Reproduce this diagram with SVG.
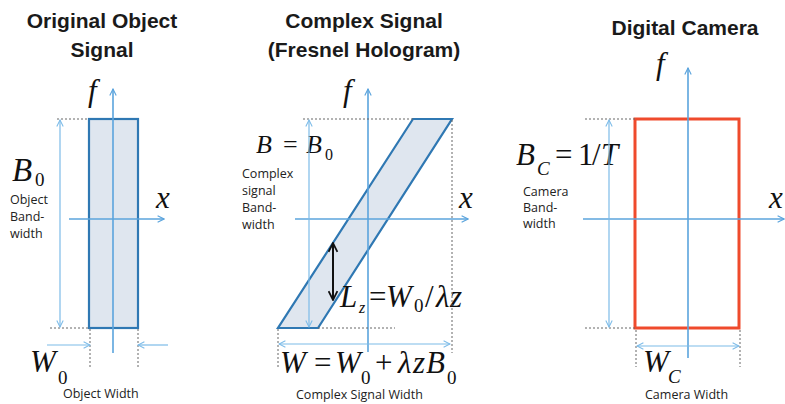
<svg xmlns="http://www.w3.org/2000/svg" width="785" height="404" viewBox="0 0 785 404">
<style>
.title{font-family:"Liberation Sans",Arial,sans-serif;font-weight:bold;font-size:21px;fill:#1a1a1a;text-anchor:middle}
.small{font-family:"Open Sans","Liberation Sans",Arial,sans-serif;font-size:12.5px;fill:#222}
.m{font-family:"Liberation Serif","Times New Roman",serif;font-style:italic;font-size:31px;fill:#111}
.mu{font-family:"Liberation Serif","Times New Roman",serif;font-size:31px;fill:#111}
.sub{font-family:"Liberation Serif","Times New Roman",serif;font-size:19px;fill:#111}
.subi{font-family:"Liberation Serif","Times New Roman",serif;font-style:italic;font-size:19px;fill:#111}
.axis{stroke:#5ba4dd;stroke-width:1.6;fill:none}
.dim{stroke:#7cbbe8;stroke-width:1.2;fill:none}
.dot{stroke:#666;stroke-width:1;stroke-dasharray:2,2;fill:none}
.band{fill:#dfe6ef;stroke:#2f78b3;stroke-width:2.2}
.cam{fill:none;stroke:#ef4a2c;stroke-width:3}
</style>
<defs>
<marker id="ah" viewBox="0 0 10 10" refX="9" refY="5" markerWidth="8" markerHeight="8" markerUnits="userSpaceOnUse" orient="auto-start-reverse">
<path d="M1,1 L9,5 L1,9" fill="none" stroke="#5ba4dd" stroke-width="1.4"/>
</marker>
<marker id="dh" viewBox="0 0 10 10" refX="9" refY="5" markerWidth="8" markerHeight="8" markerUnits="userSpaceOnUse" orient="auto-start-reverse">
<path d="M1,1 L9,5 L1,9" fill="none" stroke="#7cbbe8" stroke-width="1.3"/>
</marker>
<marker id="bh" viewBox="0 0 10 10" refX="9" refY="5" markerWidth="11" markerHeight="11" markerUnits="userSpaceOnUse" orient="auto-start-reverse">
<path d="M1,1 L9,5 L1,9" fill="none" stroke="#111" stroke-width="1.6"/>
</marker>
</defs>
<rect width="785" height="404" fill="#fff"/>

<!-- Panel 1: Original Object Signal -->
<g id="panel-object">
<text class="title" x="102" y="28">Original Object</text>
<text class="title" x="102" y="57">Signal</text>
<rect class="band" x="89" y="119" width="49" height="209"/>
<text class="m" x="88" y="101">f</text>
<text class="m" x="156" y="208">x</text>
<text><tspan class="m" x="12" y="181" style="font-size:33px">B</tspan><tspan class="sub" x="35" y="186">0</tspan></text>
<text class="small" x="10" y="204">Object</text>
<text class="small" x="10" y="221">Band-</text>
<text class="small" x="10" y="238">width</text>
<text><tspan class="m" x="30" y="372">W</tspan><tspan class="sub" x="58" y="384">0</tspan></text>
<text class="small" x="63" y="398">Object Width</text>
</g>

<!-- Panel 2: Complex Signal -->
<g id="panel-complex">
<text class="title" x="364" y="28">Complex Signal</text>
<text class="title" x="364" y="57">(Fresnel Hologram)</text>
<polygon class="band" points="278,328 318,328 452,119 413,119"/>
<text class="m" x="343" y="101">f</text>
<text class="m" x="459" y="208">x</text>
<text><tspan class="m" x="256" y="153" style="font-size:26px">B</tspan><tspan class="mu" x="283" y="153" style="font-size:26px">=</tspan><tspan class="m" x="306" y="153" style="font-size:26px">B</tspan><tspan class="sub" x="325" y="160" style="font-size:16px">0</tspan></text>
<text class="small" x="242" y="178">Complex</text>
<text class="small" x="242" y="195">signal</text>
<text class="small" x="242" y="212">Band-</text>
<text class="small" x="242" y="229">width</text>
<text><tspan class="m" x="340" y="307">L</tspan><tspan class="subi" x="359" y="313" style="font-size:16px">z</tspan><tspan class="mu" x="369" y="307">=</tspan><tspan class="m" x="386" y="307">W</tspan><tspan class="sub" x="414" y="312">0</tspan><tspan class="mu" x="425" y="307">/</tspan><tspan class="m" x="436" y="307">λ</tspan><tspan class="m" x="450" y="307">z</tspan></text>
<text><tspan class="m" x="280" y="373">W</tspan><tspan class="mu" x="314" y="373">=</tspan><tspan class="m" x="335" y="373">W</tspan><tspan class="sub" x="361" y="384">0</tspan><tspan class="mu" x="375" y="373">+</tspan><tspan class="m" x="398" y="373">λ</tspan><tspan class="m" x="413" y="373">z</tspan><tspan class="m" x="426" y="373">B</tspan><tspan class="sub" x="447" y="384">0</tspan></text>
<text class="small" x="296" y="399">Complex Signal Width</text>
</g>

<!-- Panel 3: Digital Camera -->
<g id="panel-camera">
<text class="title" x="685" y="35">Digital Camera</text>
<rect class="cam" x="635" y="119" width="104" height="209"/>
<text class="m" x="656" y="74">f</text>
<text class="m" x="769" y="208">x</text>
<text><tspan class="m" x="516" y="165">B</tspan><tspan class="subi" x="537" y="175">C</tspan><tspan class="mu" x="555" y="165">=</tspan><tspan class="mu" x="578" y="165">1</tspan><tspan class="mu" x="592" y="165">/</tspan><tspan class="m" x="601" y="165">T</tspan></text>
<text class="small" x="523" y="196">Camera</text>
<text class="small" x="523" y="212">Band-</text>
<text class="small" x="523" y="228">width</text>
<text><tspan class="m" x="643" y="372">W</tspan><tspan class="subi" x="668" y="383">C</tspan></text>
<text class="small" x="645" y="399">Camera Width</text>
</g>

<!-- Connectors: axes, dimension lines, guides -->
<g id="connectors">
<!-- panel 1 -->
<line class="axis" x1="113" y1="353" x2="113" y2="89" marker-end="url(#ah)"/>
<line class="axis" x1="69" y1="219" x2="164" y2="219" marker-end="url(#ah)"/>
<line class="dot" x1="57" y1="119" x2="89" y2="119"/>
<line class="dot" x1="50" y1="328" x2="89" y2="328"/>
<line class="dim" x1="60" y1="120" x2="60" y2="327" marker-start="url(#dh)" marker-end="url(#dh)"/>
<line class="dot" x1="90" y1="329" x2="90" y2="367"/>
<line class="dot" x1="138" y1="329" x2="138" y2="367"/>
<line class="dim" x1="47" y1="345" x2="90" y2="345" marker-end="url(#dh)"/>
<line class="dim" x1="168" y1="345" x2="138" y2="345" marker-end="url(#dh)"/>
<!-- panel 2 -->
<line class="axis" x1="368" y1="352" x2="368" y2="89" marker-end="url(#ah)"/>
<line class="axis" x1="295" y1="219" x2="468" y2="219" marker-end="url(#ah)"/>
<line class="dot" x1="303" y1="119" x2="413" y2="119"/>
<line class="dot" x1="452" y1="120" x2="452" y2="353"/>
<line class="dot" x1="318" y1="328" x2="395" y2="328"/>
<line class="dot" x1="278" y1="329" x2="278" y2="367"/>
<line class="dim" x1="309" y1="120" x2="309" y2="327" marker-start="url(#dh)" marker-end="url(#dh)"/>
<line class="dim" x1="279" y1="344" x2="450" y2="344" marker-start="url(#dh)" marker-end="url(#dh)"/>
<line x1="333" y1="243" x2="333" y2="300" stroke="#111" stroke-width="2" marker-start="url(#bh)" marker-end="url(#bh)"/>
<!-- panel 3 -->
<line class="axis" x1="688" y1="358" x2="688" y2="68" marker-end="url(#ah)"/>
<line class="axis" x1="583" y1="219" x2="784" y2="219" marker-end="url(#ah)"/>
<line class="dot" x1="585" y1="119" x2="635" y2="119"/>
<line class="dot" x1="585" y1="328" x2="635" y2="328"/>
<line class="dim" x1="609" y1="120" x2="609" y2="327" marker-start="url(#dh)" marker-end="url(#dh)"/>
<line class="dot" x1="636" y1="330" x2="636" y2="367"/>
<line class="dot" x1="740" y1="330" x2="740" y2="367"/>
<line class="dim" x1="637" y1="346" x2="739" y2="346" marker-start="url(#dh)" marker-end="url(#dh)"/>
</g>
</svg>
